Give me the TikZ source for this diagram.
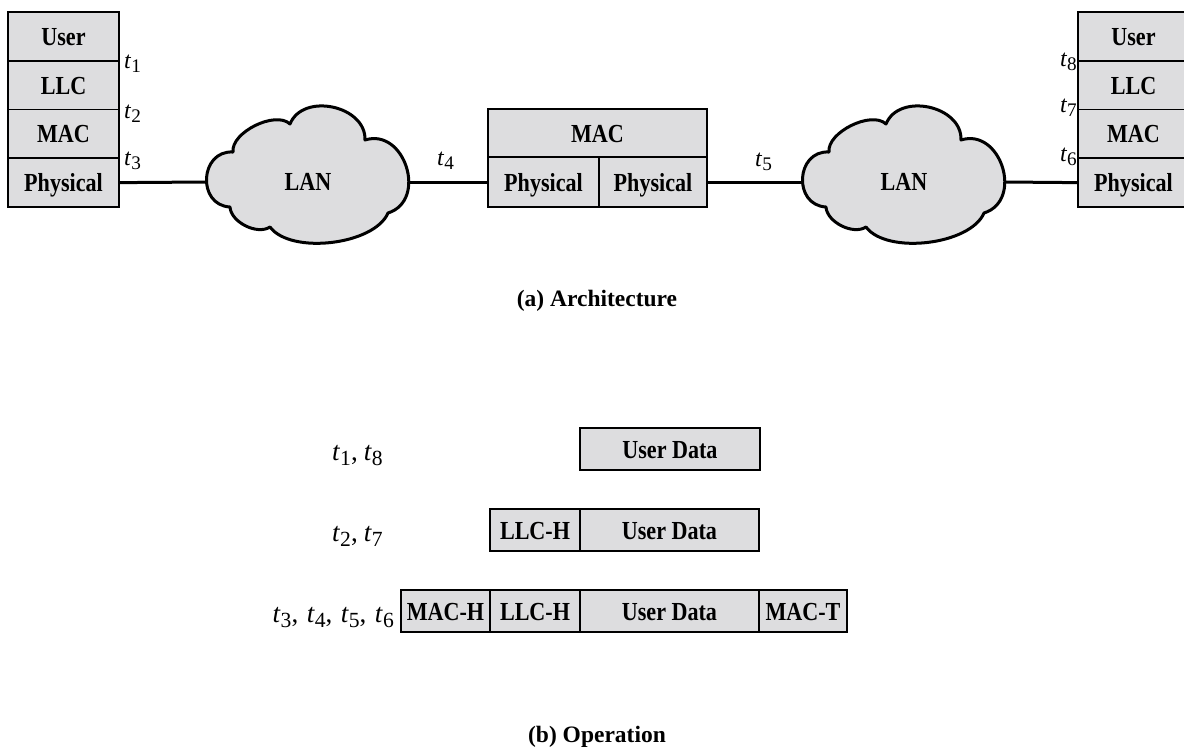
\documentclass[tikz,border=0pt]{standalone}
\usepackage{fontspec}
\setmainfont{Liberation Serif}
\newfontfamily\cellfam[FakeStretch=0.85]{Liberation Serif}
\definecolor{cellgray}{RGB}{221,221,223}
\newcommand{\boxfont}{\cellfam\bfseries\fontsize{26}{28}\selectfont}
\newcommand{\capfont}{\bfseries\fontsize{23.5}{26}\selectfont}
\newcommand{\tfont}{\fontsize{24}{26}\selectfont}
\newcommand{\rfont}{\fontsize{27}{29}\selectfont}
\newcommand{\tsub}[1]{\textit{t}\raisebox{-0.19em}{\fontsize{0.8em}{1em}\selectfont #1}}
\newcommand{\csep}{,\hspace{6pt}}
\newcommand{\cwide}{,\hspace{8.5pt}}
\newcommand{\cloudshape}{(233,-152) to[bend left=70,looseness=0.8] (290,-124) to[bend left=80,looseness=1.15] (365,-140) to[bend left=90,looseness=1.4] (388,-213) to[bend left=60,looseness=0.75] (270,-227) to[bend left=60,looseness=0.87] (230,-207) to[bend left=90,looseness=1.55] (233,-152) -- cycle}
\tikzset{
  cell/.style={draw, line width=1.6pt, fill=cellgray, inner sep=0pt, font=\boxfont, text height=18pt, text depth=0pt},
  conn/.style={line width=3pt},
  cloudsty/.style={draw, line width=3pt, fill=cellgray, line join=round},
  tlab/.style={font=\tfont, inner sep=0pt},
  rowlab/.style={font=\rfont, inner sep=0pt},
  caplab/.style={font=\capfont, inner sep=0pt}
}
\begin{document}
\begin{tikzpicture}[x=1pt,y=1pt]
\useasboundingbox (0,0) rectangle (1184,-755);
\clip (0,0) rectangle (1184,-755);
\fill[white] (0,0) rectangle (1184,-755);
% left stack
\node[cell, minimum width=111pt, minimum height=48.75pt] (lUser) at (63.5,-36.375) {User};
\node[cell, minimum width=111pt, minimum height=48.75pt] (lLLC) at (63.5,-85.125) {LLC};
\node[cell, minimum width=111pt, minimum height=48.75pt] (lMAC) at (63.5,-133.875) {MAC};
\node[cell, minimum width=111pt, minimum height=48.75pt] (lPhy) at (63.5,-182.625) {Physical};
% right stack
\node[cell, minimum width=111pt, minimum height=48.75pt] (rUser) at (1133.5,-36.375) {User};
\node[cell, minimum width=111pt, minimum height=48.75pt] (rLLC) at (1133.5,-85.125) {LLC};
\node[cell, minimum width=111pt, minimum height=48.75pt] (rMAC) at (1133.5,-133.875) {MAC};
\node[cell, minimum width=111pt, minimum height=48.75pt] (rPhy) at (1133.5,-182.625) {Physical};
% bridge
\node[cell, minimum width=219pt, minimum height=48pt] (bMAC) at (597.5,-133) {MAC};
\node[cell, minimum width=111pt, minimum height=50pt] (bPhyL) at (543.5,-182) {Physical};
\node[cell, minimum width=108pt, minimum height=50pt] (bPhyR) at (653,-182) {Physical};
% clouds
\path[cloudsty] \cloudshape;
\begin{scope}[shift={(596,0)}]
\path[cloudsty] \cloudshape;
\end{scope}
\node[font=\boxfont, inner sep=0pt, text height=18pt, text depth=0pt] (lanL) at (308,-181) {LAN};
\node[font=\boxfont, inner sep=0pt, text height=18pt, text depth=0pt] (lanR) at (904,-181) {LAN};
\coordinate (cLw) at (206,-182);
\coordinate (cLe) at (408,-182);
\coordinate (cRw) at (802,-182);
\coordinate (cRe) at (1004,-182);
% connectors
\draw[conn] (lPhy.east) -- (cLw);
\draw[conn] (cLe) -- (bPhyL.west);
\draw[conn] (bPhyR.east) -- (cRw);
\draw[conn] (cRe) -- (rPhy.west);
% t labels
\node[tlab, anchor=base west] (t1) at (124,-68) {\tsub{1}};
\node[tlab, anchor=base west] (t2) at (124,-118) {\tsub{2}};
\node[tlab, anchor=base west] (t3) at (124,-165) {\tsub{3}};
\node[tlab, anchor=base west] (t4) at (437,-165) {\tsub{4}};
\node[tlab, anchor=base west] (t5) at (755,-166) {\tsub{5}};
\node[tlab, anchor=base east] (t8) at (1077,-66) {\tsub{8}};
\node[tlab, anchor=base east] (t7) at (1077,-112) {\tsub{7}};
\node[tlab, anchor=base east] (t6) at (1077,-161) {\tsub{6}};
% caption a
\node[caplab] (capA) at (597,-301) {(a) Architecture};
% frames
\node[cell, minimum width=180pt, minimum height=42pt] (ud1) at (670,-449) {User Data};
\node[cell, minimum width=90pt, minimum height=42pt] (llc2) at (535,-530) {LLC-H};
\node[cell, minimum width=179pt, minimum height=42pt] (ud2) at (669.5,-530) {User Data};
\node[cell, minimum width=89pt, minimum height=42pt] (mach) at (445.5,-611) {MAC-H};
\node[cell, minimum width=90pt, minimum height=42pt] (llc3) at (535,-611) {LLC-H};
\node[cell, minimum width=179pt, minimum height=42pt] (ud3) at (669.5,-611) {User Data};
\node[cell, minimum width=88pt, minimum height=42pt] (mact) at (803,-611) {MAC-T};
\node[rowlab, anchor=base west] (r1) at (332,-460) {\tsub{1}\csep\tsub{8}};
\node[rowlab, anchor=base west] (r2) at (332,-541) {\tsub{2}\csep\tsub{7}};
\node[rowlab, anchor=base east] (r3) at (394,-622) {\tsub{3}\cwide\tsub{4}\cwide\tsub{5}\cwide\tsub{6}};
\node[caplab] (capB) at (597,-737) {(b) Operation};
\end{tikzpicture}
\end{document}
